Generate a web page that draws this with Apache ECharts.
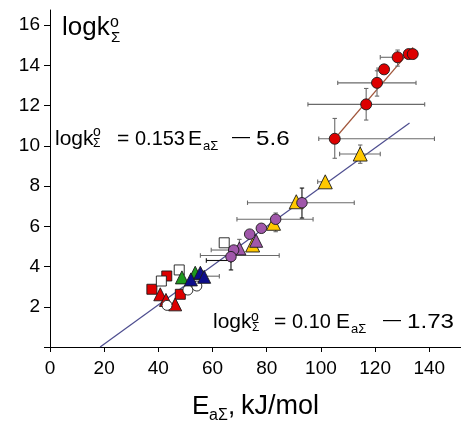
<!DOCTYPE html>
<html><head><meta charset="utf-8">
<script src="https://cdn.jsdelivr.net/npm/echarts@6/dist/echarts.min.js"></script>
<style>html,body{margin:0;padding:0;background:#fff}#c{width:461px;height:421px}</style>
</head><body><div id="c"></div>
<script>
// tick labels
const xTickValues = [0, 20, 40, 60, 80, 100, 120, 140];
const yTickValues = [0, 2, 4, 6, 8, 10, 12, 14, 16];
const yLabelValues = [2, 4, 6, 8, 10, 12, 14, 16];

// series values [E_aΣ, logk]
const redCircles = [[105.1,10.35],[116.7,12.06],[120.7,13.13],[123.3,13.8],[128.3,14.4],[132.4,14.56],[133.9,14.56]];
const yellowTriangles = [[114.5,9.59],[101.6,8.21],[90.9,7.22],[82.5,6.15],[74.8,5.07]];
const purpleCircles = [[93.0,7.17],[83.3,6.35],[78.0,5.9],[73.7,5.61],[67.8,4.82],[66.8,4.49]];
const purpleTriangles = [[76.1,5.28],[69.9,4.9]];
const redSquares = [[43.1,3.53],[37.6,2.87],[48.1,2.62]];
const redTriangles = [[40.7,2.62],[42.8,2.34],[46.2,2.12]];
const whiteSquares = [[64.3,5.18],[47.7,3.83],[41.1,3.28]];
const whiteCircles = [[43.2,2.07],[50.9,2.83],[54.2,3.03]];
const greenTriangles = [[48.7,3.46],[53.6,3.69]];
const navyTriangles = [[52.0,3.36],[55.5,3.69],[56.9,3.49]];

// fitted lines (end points)
const fitLow = [[18.5,0],[132.7,11.13]];
const fitHigh = [[105.1,10.35],[134.0,14.89]];

// error bars: horizontal [xLow, xHigh, y], vertical [x, yLow, yHigh]
const grayXErrors = [[99.2,141.9,10.35],[95.2,138.3,12.06],[106.2,135.1,13.13],[120.7,123.3,13.8],[121.9,131.8,14.4],[106.9,121.9,9.59],[98.8,101.6,8.21],[72.9,112.3,7.17],[69.0,97.1,6.35],[55.5,84.6,4.55],[59.5,70.0,4.82],[54.2,62.5,3.52]];
const grayYErrors = [[105.1,9.38,11.36],[116.7,11.28,12.85],[120.7,12.47,13.73],[128.3,13.96,14.76],[132.4,14.41,14.71],[114.5,9.13,10.04],[101.6,8.1,8.32],[83.3,5.73,6.66],[69.9,4.75,5.35]];
const blackXErrors = [[57.7,66.8,4.3]];
const blackYErrors = [[93.0,6.41,7.9],[66.8,3.83,4.98]];

const FONT = '"Liberation Sans", Arial, sans-serif';
const CAP = 2.2;

function xErrRender(color) {
  return function (params, api) {
    const a = api.coord([api.value(0), api.value(2)]);
    const b = api.coord([api.value(1), api.value(2)]);
    const st = { stroke: color, lineWidth: 1.1 };
    return { type: 'group', children: [
      { type: 'line', shape: { x1: a[0], y1: a[1], x2: b[0], y2: b[1] }, style: st },
      { type: 'line', shape: { x1: a[0], y1: a[1]-CAP, x2: a[0], y2: a[1]+CAP }, style: st },
      { type: 'line', shape: { x1: b[0], y1: b[1]-CAP, x2: b[0], y2: b[1]+CAP }, style: st }
    ]};
  };
}
function yErrRender(color) {
  return function (params, api) {
    const a = api.coord([api.value(0), api.value(1)]);
    const b = api.coord([api.value(0), api.value(2)]);
    const st = { stroke: color, lineWidth: 1.1 };
    return { type: 'group', children: [
      { type: 'line', shape: { x1: a[0], y1: a[1], x2: b[0], y2: b[1] }, style: st },
      { type: 'line', shape: { x1: a[0]-CAP, y1: a[1], x2: a[0]+CAP, y2: a[1] }, style: st },
      { type: 'line', shape: { x1: b[0]-CAP, y1: b[1], x2: b[0]+CAP, y2: b[1] }, style: st }
    ]};
  };
}

function T(text, x, base, size, sx) {
  return { type: 'text', x: x, y: base - 0.35 * size, z: 100, scaleX: sx || 1,
    style: { text: text, font: size + 'px ' + FONT, fill: '#000',
      textAlign: 'left', textVerticalAlign: 'middle', align: 'left', verticalAlign: 'middle' } };
}

function sc(name, data, symbol, size, color) {
  return { name: name, type: 'scatter', data: data, symbol: symbol, symbolSize: size, z: 5,
    itemStyle: { color: color, borderColor: '#1a1a1a', borderWidth: 0.9, opacity: 1 } };
}

const chart = echarts.init(document.getElementById('c'), null, { renderer: 'canvas' });
chart.setOption({
  animation: false,
  backgroundColor: '#fff',
  grid: { left: 50, right: 0, top: 10, bottom: 74 },
  xAxis: {
    type: 'value', min: 0, max: 151.7,
    axisLine: { show: true, onZero: true, lineStyle: { color: '#000', width: 1 } },
    axisTick: { show: true, customValues: xTickValues, length: 5, lineStyle: { color: '#000' } },
    axisLabel: { customValues: xTickValues, fontSize: 19, fontFamily: FONT, color: '#000', margin: 12 },
    splitLine: { show: false }
  },
  yAxis: {
    type: 'value', min: 0, max: 16.75,
    axisLine: { show: true, lineStyle: { color: '#000', width: 1 } },
    axisTick: { show: true, customValues: yTickValues, length: 6, lineStyle: { color: '#000' } },
    axisLabel: { customValues: yLabelValues, fontSize: 19, fontFamily: FONT, color: '#000', margin: 10 },
    splitLine: { show: false }
  },
  series: [
    { type: 'line', data: fitLow, showSymbol: false, symbol: 'none', z: 1, lineStyle: { color: '#4d4d8f', width: 1.2 } },
    { type: 'line', data: fitHigh, showSymbol: false, symbol: 'none', z: 1, lineStyle: { color: '#a0553a', width: 1.2 } },
    { type: 'custom', data: grayXErrors, renderItem: xErrRender('#6a6a6a'), z: 2, encode: { x: [0, 1], y: 2 } },
    { type: 'custom', data: grayYErrors, renderItem: yErrRender('#6a6a6a'), z: 2, encode: { x: 0, y: [1, 2] } },
    { type: 'custom', data: blackXErrors, renderItem: xErrRender('#111'), z: 2, encode: { x: [0, 1], y: 2 } },
    { type: 'custom', data: blackYErrors, renderItem: yErrRender('#111'), z: 2, encode: { x: 0, y: [1, 2] } },
    sc('redSquares', redSquares, 'rect', 10, '#dd0000'),
    sc('redTriangles', redTriangles, 'triangle', 13, '#dd0000'),
    sc('whiteSquares', whiteSquares, 'rect', 10, '#ffffff'),
    sc('whiteCircles', whiteCircles, 'circle', 10, '#ffffff'),
    sc('greenTriangles', greenTriangles, 'triangle', 13, '#1e9a1e'),
    sc('navyTriangles', navyTriangles, 'triangle', 13, '#0c0c8a'),
    sc('yellowTriangles', yellowTriangles, 'triangle', 14, '#ffc800'),
    sc('purpleTriangles', purpleTriangles, 'triangle', 13, '#a057aa'),
    sc('purpleCircles', purpleCircles, 'circle', 10.5, '#a057aa'),
    sc('redCircles', redCircles, 'circle', 11, '#dd0000')
  ],
  graphic: [
    // top-left label
    T('logk', 62, 37, 26), T('o', 110, 28, 16), T('Σ', 111, 43, 15),
    // equation 1
    T('logk', 55, 147, 21), T('o', 93, 137.5, 14), T('Σ', 93, 148, 12),
    T('=', 117, 147, 21), T('0.153', 135, 147, 21, 0.95), T('E', 188, 147, 21),
    T('aΣ', 203, 150.5, 13), T('—', 232, 143, 18), T('5.6', 256, 147, 21, 1.15),
    // equation 2
    T('logk', 213, 330, 21), T('o', 251, 322, 14), T('Σ', 252, 332, 12),
    T('=', 274, 330, 21), T('0.10', 292, 330, 21, 0.95), T('E', 336, 330, 21),
    T('aΣ', 351, 333.5, 13), T('—', 383, 326, 18), T('1.73', 407, 330, 21, 1.15),
    // x axis title
    T('E', 192, 416, 26), T('aΣ', 209, 421, 16), T(',', 228, 416, 26), T('kJ/mol', 241, 416, 27)
  ]
});
</script></body></html>
